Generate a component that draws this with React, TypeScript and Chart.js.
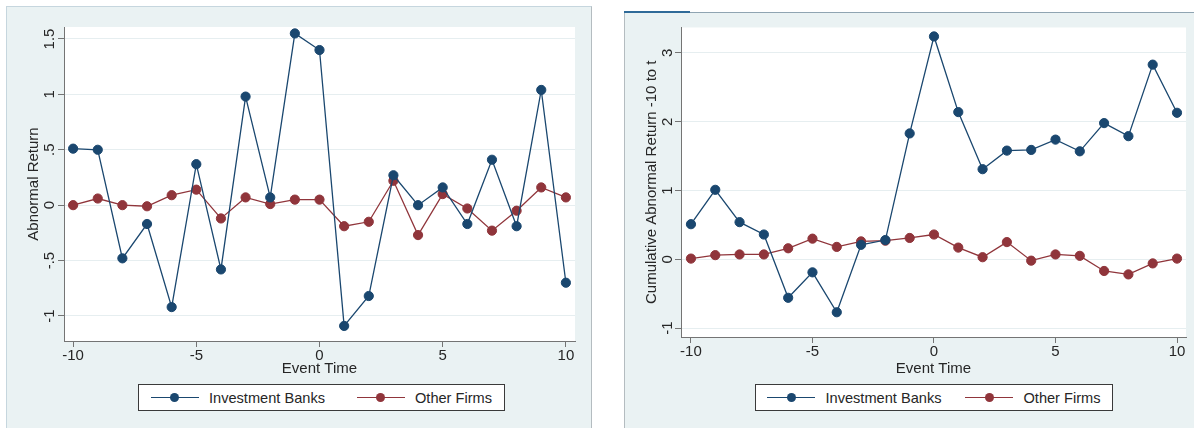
import React, { useEffect, useRef } from 'react';
import { Chart, registerables } from 'chart.js';

Chart.register(...registerables);

// ---------- data ----------
const eventTime = [-10, -9, -8, -7, -6, -5, -4, -3, -2, -1, 0, 1, 2, 3, 4, 5, 6, 7, 8, 9, 10];

const abnormalBanks = [0.51, 0.5, -0.48, -0.17, -0.92, 0.37, -0.58, 0.98, 0.07, 1.55, 1.4, -1.09, -0.82, 0.27, 0.0, 0.16, -0.17, 0.41, -0.19, 1.04, -0.7];
const abnormalOther = [0.0, 0.06, 0.0, -0.01, 0.09, 0.14, -0.12, 0.07, 0.01, 0.05, 0.05, -0.19, -0.15, 0.22, -0.27, 0.1, -0.03, -0.23, -0.05, 0.16, 0.07];

const cumBanks = [0.51, 1.01, 0.54, 0.36, -0.56, -0.19, -0.77, 0.21, 0.28, 1.83, 3.24, 2.14, 1.31, 1.58, 1.59, 1.74, 1.57, 1.98, 1.79, 2.83, 2.13];
const cumOther = [0.01, 0.06, 0.07, 0.07, 0.16, 0.3, 0.18, 0.26, 0.27, 0.31, 0.36, 0.17, 0.03, 0.25, -0.02, 0.07, 0.05, -0.17, -0.22, -0.06, 0.01];

const xTickValues = [-10, -5, 0, 5, 10];
const leftYTicks = [-1, -0.5, 0, 0.5, 1, 1.5];
const leftYTickLabels = ['-1', '-.5', '0', '.5', '1', '1.5'];
const rightYTicks = [-1, 0, 1, 2, 3];
const rightYTickLabels = ['-1', '0', '1', '2', '3'];

const seriesNames = ['Investment Banks', 'Other Firms'];
const seriesColors = ['#1a476f', '#90353b'];

const xTitle = 'Event Time';
const leftYTitle = 'Abnormal Return';
const rightYTitle = 'Cumulative Abnormal Return -10 to t';

// ---------- styles ----------
const FONT = "Arial, 'Liberation Sans', Helvetica, sans-serif";
const PANEL_BG = '#eaf2f3';
const AXIS = '#747474';
const TEXT = '#262626';

const plotBg = {
  id: 'plotBg',
  beforeDraw(chart: any) {
    const { ctx, chartArea: a } = chart;
    ctx.save();
    ctx.fillStyle = '#ffffff';
    ctx.fillRect(a.left, a.top, a.right - a.left, a.bottom - a.top);
    ctx.restore();
  },
};

type Cfg = {
  banks: number[];
  other: number[];
  xMin: number;
  xMax: number;
  yMin: number;
  yMax: number;
  yTicks: number[];
  yLabels: string[];
  yTitle: string;
  padding: { left: number; right: number; top: number; bottom: number };
  yWidth: number;
  xHeight: number;
  yTickPad: number;
};

function makeConfig(c: Cfg): any {
  const font = { family: FONT, size: 15 };
  return {
    type: 'line',
    data: {
      datasets: [c.banks, c.other].map((vals, i) => ({
        label: seriesNames[i],
        data: eventTime.map((x, j) => ({ x, y: vals[j] })),
        borderColor: seriesColors[i],
        backgroundColor: seriesColors[i],
        pointBackgroundColor: seriesColors[i],
        pointBorderColor: seriesColors[i],
        pointRadius: 4.6,
        pointBorderWidth: 1,
        borderWidth: 1.3,
        tension: 0,
        fill: false,
        clip: false,
      })),
    },
    options: {
      animation: false,
      responsive: false,
      devicePixelRatio: 1,
      layout: { padding: c.padding },
      plugins: { legend: { display: false }, tooltip: { enabled: false } },
      scales: {
        x: {
          type: 'linear',
          min: c.xMin,
          max: c.xMax,
          afterBuildTicks: (s: any) => {
            s.ticks = xTickValues.map((v) => ({ value: v }));
          },
          afterFit: (s: any) => {
            s.height = c.xHeight;
          },
          grid: { drawOnChartArea: false, drawTicks: true, tickLength: 6, tickColor: AXIS, tickWidth: 1 },
          border: { color: AXIS, width: 1 },
          ticks: {
            color: TEXT,
            font,
            padding: 0,
            minRotation: 0,
            maxRotation: 0,
            autoSkip: false,
            callback: (v: number) => String(v),
          },
          title: { display: true, text: xTitle, color: TEXT, font, padding: 0 },
        },
        y: {
          type: 'linear',
          min: c.yMin,
          max: c.yMax,
          afterBuildTicks: (s: any) => {
            s.ticks = c.yTicks.map((v) => ({ value: v }));
          },
          afterFit: (s: any) => {
            s.width = c.yWidth;
          },
          grid: { color: '#e6eef0', lineWidth: 1, drawTicks: true, tickLength: 6, tickColor: AXIS, tickWidth: 1 },
          border: { color: AXIS, width: 1 },
          ticks: {
            color: TEXT,
            font,
            minRotation: 90,
            maxRotation: 90,
            crossAlign: 'center',
            padding: c.yTickPad,
            autoSkip: false,
            callback: (_v: number, i: number) => c.yLabels[i],
          },
          title: { display: true, text: c.yTitle, color: TEXT, font, padding: 0 },
        },
      },
    },
    plugins: [plotBg],
  };
}

function ChartCanvas({ cfg, left, width }: { cfg: Cfg; left: number; width: number }) {
  const ref = useRef<HTMLCanvasElement>(null);
  useEffect(() => {
    if (!ref.current) return;
    const chart = new Chart(ref.current, makeConfig(cfg));
    return () => chart.destroy();
  }, []);
  return (
    <canvas
      ref={ref}
      width={width}
      height={428}
      style={{ position: 'absolute', left, top: 0, width, height: 428 }}
    />
  );
}

function Legend({ left, width, gap }: { left: number; width: number; gap: number }) {
  return (
    <div
      style={{
        position: 'absolute',
        left,
        top: 384,
        width,
        height: 27,
        boxSizing: 'border-box',
        border: '1px solid #3a3a3a',
        background: '#ffffff',
        display: 'flex',
        alignItems: 'center',
        justifyContent: 'center',
        fontFamily: FONT,
        fontSize: 14.6,
        color: TEXT,
      }}
    >
      {seriesNames.map((n, i) => (
        <div key={n} style={{ display: 'flex', alignItems: 'center', marginLeft: i ? gap : 0 }}>
          <span style={{ position: 'relative', display: 'inline-block', width: 48, height: 10, marginRight: 10 }}>
            <span
              style={{
                position: 'absolute',
                left: 0,
                top: 4.5,
                width: 48,
                height: 1.3,
                background: seriesColors[i],
              }}
            />
            <span
              style={{
                position: 'absolute',
                left: 19.5,
                top: 0.5,
                width: 9,
                height: 9,
                borderRadius: '50%',
                background: seriesColors[i],
              }}
            />
          </span>
          <span style={{ whiteSpace: 'nowrap' }}>{n}</span>
        </div>
      ))}
    </div>
  );
}

const leftCfg: Cfg = {
  banks: abnormalBanks,
  other: abnormalOther,
  xMin: -10.37,
  xMax: 10.37,
  yMin: -1.226,
  yMax: 1.608,
  yTicks: leftYTicks,
  yLabels: leftYTickLabels,
  yTitle: leftYTitle,
  padding: { left: 25, right: 17, top: 27, bottom: 50 },
  yWidth: 39,
  xHeight: 37,
  yTickPad: -2.4,
};

const rightCfg: Cfg = {
  banks: cumBanks,
  other: cumOther,
  xMin: -10.41,
  xMax: 10.37,
  yMin: -1.13,
  yMax: 3.37,
  yTicks: rightYTicks,
  yLabels: rightYTickLabels,
  yTitle: rightYTitle,
  padding: { left: 43, right: 8, top: 27.5, bottom: 50 },
  yWidth: 38,
  xHeight: 41,
  yTickPad: 0.3,
};

export default function App() {
  return (
    <div
      style={{
        position: 'absolute',
        left: 0,
        top: 0,
        width: 1194,
        height: 428,
        background: '#ffffff',
        overflow: 'hidden',
      }}
    >
      {/* left panel */}
      <div
        style={{
          position: 'absolute',
          left: 6,
          top: 6,
          width: 586,
          height: 422,
          boxSizing: 'border-box',
          background: PANEL_BG,
          borderTop: '1px solid #c6d6de',
          borderLeft: '1px solid #c6d6de',
          borderRight: '1px solid #b4bcc0',
        }}
      />
      {/* right panel */}
      <div
        style={{
          position: 'absolute',
          left: 624,
          top: 12,
          width: 570,
          height: 416,
          boxSizing: 'border-box',
          background: PANEL_BG,
          borderTop: '1px solid #8fa4b2',
          borderLeft: '1px solid #b4bcc0',
        }}
      />
      <div style={{ position: 'absolute', left: 624, top: 11, width: 66, height: 2, background: '#2f6a98' }} />

      <ChartCanvas cfg={leftCfg} left={0} width={592} />
      <ChartCanvas cfg={rightCfg} left={600} width={594} />

      <Legend left={138} width={367} gap={32} />
      <Legend left={755} width={358} gap={24} />
    </div>
  );
}
